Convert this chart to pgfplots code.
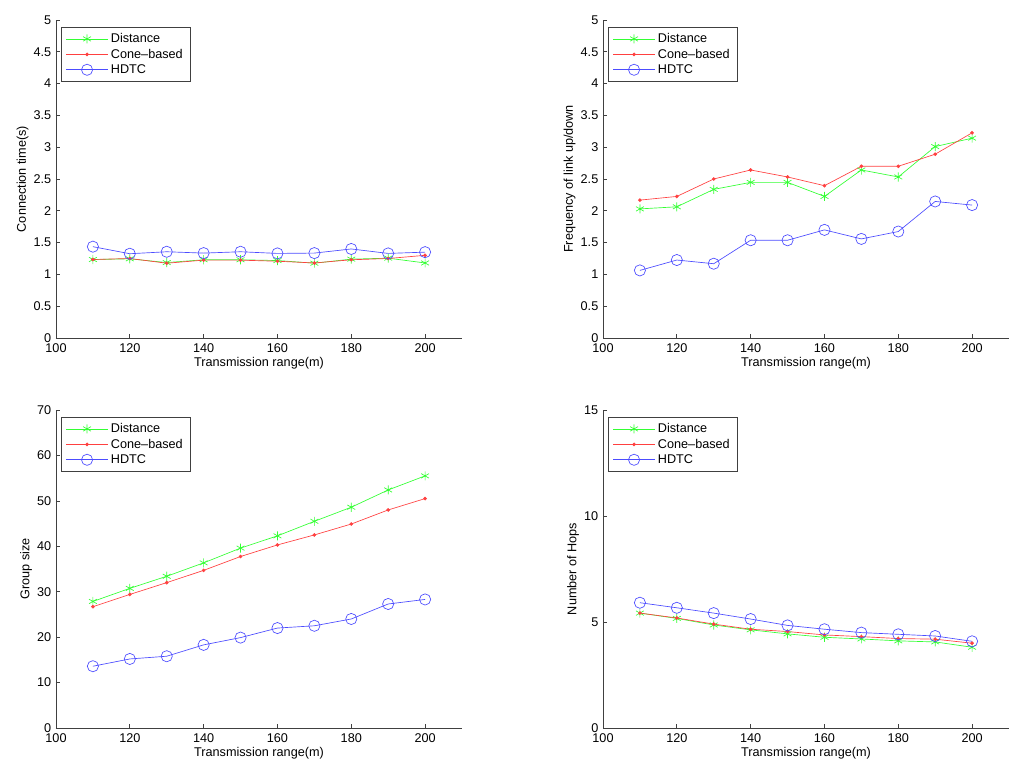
\documentclass[border=0pt]{standalone}
\usepackage{fontspec}
\setmainfont{Liberation Sans}
\usepackage{pgfplots}
\pgfplotsset{compat=1.18}

\pgfplotsset{
  panel/.style={
    scale only axis,
    width=304.5pt, height=238.5pt,
    axis x line*=bottom, axis y line*=left,
    axis line style={-, black!75, line width=0.5pt},
    tick align=inside, major tick length=3pt,
    tick style={black!75, line width=0.5pt},
    xmin=100, xmax=210, xtick={100,120,...,200},
    /pgf/number format/assume math mode=true,
    ticklabel style={font=\fontsize{9.5}{11}\selectfont},
    xticklabel style={yshift=-1pt},
    label style={font=\fontsize{9.5}{11}\selectfont},
    xlabel={Transmission range(m)},
    xlabel style={yshift=4pt},
    ylabel style={yshift=-3pt},
    legend style={at={(rel axis cs:0.012,0.978)}, anchor=north west,
      draw=black!75, line width=0.5pt, fill=white,
      font=\fontsize{9.5}{11}\selectfont, inner xsep=3.5pt, inner ysep=2.5pt,
      row sep=-0.75pt},
    legend cell align=left,
    legend image code/.code={\draw[mark repeat=2,mark phase=2,##1] plot coordinates {(0cm,0cm) (0.55cm,0cm) (1.1cm,0cm)};},
    every axis plot/.append style={line width=0.5pt},
  },
  dist/.style={color={rgb,1:red,0.2;green,1;blue,0.2}, mark=asterisk, mark size=3.4pt, mark options={line width=0.5pt}},
  cone/.style={color={rgb,1:red,1;green,0.25;blue,0.25}, mark=*, mark size=1.1pt},
  hdtc/.style={color={rgb,1:red,0.3;green,0.3;blue,1}, mark=o, mark size=4.2pt},
}

\begin{document}
\begin{tikzpicture}
\path[use as bounding box] (0pt,0pt) rectangle (768pt,576.75pt);

% top left
\begin{axis}[panel, at={(42pt,323.25pt)}, anchor=south west,
  ymin=0, ymax=5, ytick={0,0.5,...,5},
  yticklabels={0,0.5,1,1.5,2,2.5,3,3.5,4,4.5,5},
  ylabel={Connection time(s)}]
\addplot[dist] coordinates {(110,1.234) (120,1.245) (130,1.186) (140,1.23) (150,1.23) (160,1.218) (170,1.176) (180,1.24) (190,1.255) (200,1.18)};
\addplot[cone] coordinates {(110,1.234) (120,1.25) (130,1.176) (140,1.224) (150,1.224) (160,1.207) (170,1.18) (180,1.23) (190,1.25) (200,1.30)};
\addplot[hdtc] coordinates {(110,1.436) (120,1.325) (130,1.356) (140,1.335) (150,1.356) (160,1.33) (170,1.335) (180,1.40) (190,1.33) (200,1.35)};
\legend{Distance,Cone--based,HDTC}
\end{axis}

% top right
\begin{axis}[panel, at={(452.25pt,323.25pt)}, anchor=south west,
  ymin=0, ymax=5, ytick={0,0.5,...,5},
  yticklabels={0,0.5,1,1.5,2,2.5,3,3.5,4,4.5,5},
  ylabel={Frequency of link up/down}]
\addplot[dist] coordinates {(110,2.03) (120,2.063) (130,2.337) (140,2.447) (150,2.447) (160,2.226) (170,2.642) (180,2.532) (190,3.01) (200,3.142)};
\addplot[cone] coordinates {(110,2.168) (120,2.226) (130,2.5) (140,2.642) (150,2.532) (160,2.395) (170,2.70) (180,2.70) (190,2.89) (200,3.226)};
\addplot[hdtc] coordinates {(110,1.063) (120,1.226) (130,1.168) (140,1.537) (150,1.537) (160,1.70) (170,1.558) (180,1.674) (190,2.147) (200,2.09)};
\legend{Distance,Cone--based,HDTC}
\end{axis}

% bottom left
\begin{axis}[panel, at={(42pt,30.75pt)}, anchor=south west,
  ymin=0, ymax=70, ytick={0,10,...,70},
  ylabel={Group size}]
\addplot[dist] coordinates {(110,27.86) (120,30.74) (130,33.4) (140,36.35) (150,39.6) (160,42.3) (170,45.5) (180,48.6) (190,52.4) (200,55.5)};
\addplot[cone] coordinates {(110,26.7) (120,29.4) (130,32.0) (140,34.7) (150,37.75) (160,40.3) (170,42.5) (180,44.9) (190,48.0) (200,50.5)};
\addplot[hdtc] coordinates {(110,13.6) (120,15.2) (130,15.8) (140,18.3) (150,19.9) (160,22.0) (170,22.5) (180,24.0) (190,27.3) (200,28.3)};
\legend{Distance,Cone--based,HDTC}
\end{axis}

% bottom right
\begin{axis}[panel, at={(452.25pt,30.75pt)}, anchor=south west,
  ymin=0, ymax=15, ytick={0,5,10,15},
  ylabel={Number of Hops}]
\addplot[dist] coordinates {(110,5.42) (120,5.17) (130,4.86) (140,4.63) (150,4.44) (160,4.28) (170,4.2) (180,4.11) (190,4.06) (200,3.81)};
\addplot[cone] coordinates {(110,5.42) (120,5.19) (130,4.9) (140,4.66) (150,4.55) (160,4.39) (170,4.31) (180,4.22) (190,4.19) (200,4.0)};
\addplot[hdtc] coordinates {(110,5.91) (120,5.67) (130,5.42) (140,5.14) (150,4.84) (160,4.66) (170,4.5) (180,4.42) (190,4.34) (200,4.09)};
\legend{Distance,Cone--based,HDTC}
\end{axis}
\end{tikzpicture}
\end{document}
